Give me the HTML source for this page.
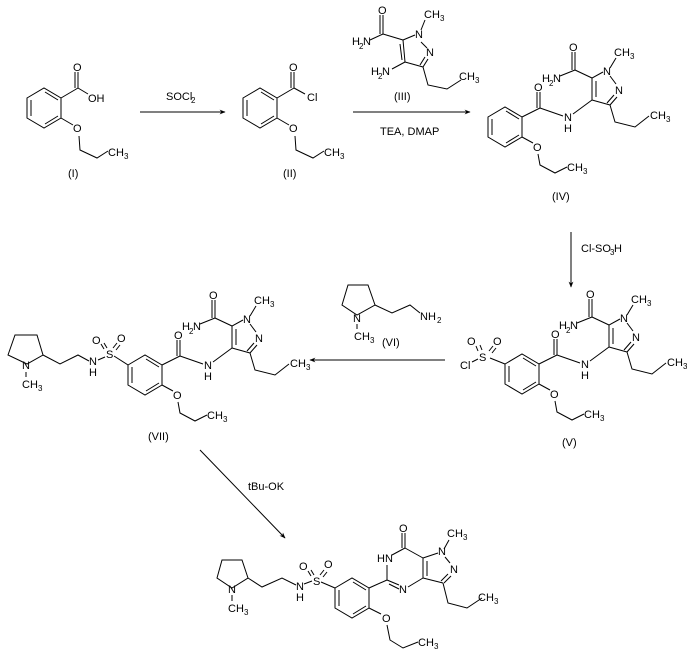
<!DOCTYPE html>
<html><head><meta charset="utf-8"><style>
html,body{margin:0;padding:0;background:#fff;}
svg{display:block;}
text{font-family:"Liberation Sans",sans-serif;font-size:11px;fill:#000;}
.s{font-size:8px;}
line,polyline,polygon,path{stroke:#000;stroke-width:1;fill:none;}
</style></head><body>
<svg width="687" height="660" viewBox="0 0 687 660" xmlns="http://www.w3.org/2000/svg">
<defs>
<marker id="ah" viewBox="0 0 10 10" refX="9" refY="5" markerWidth="8" markerHeight="6" orient="auto"><path d="M0,1 L10,5 L0,9 L3,5 Z" style="fill:#000;stroke:none"/></marker>
<g id="benz">
<polygon points="0,10 17,0 34,10 34,30 17,40 0,30"/>
<line x1="4" y1="12" x2="4" y2="28"/>
<line x1="18" y1="4" x2="31" y2="12"/>
<line x1="18" y1="36" x2="31" y2="28"/>
</g>
<g id="core">
<use href="#benz" x="488" y="107"/>
<line x1="522" y1="117" x2="540" y2="108"/>
<line x1="540" y1="108" x2="540" y2="92"/><line x1="537" y1="108" x2="537" y2="92"/>
<text x="534" y="91">O</text>
<line x1="540" y1="108" x2="563" y2="116"/>
<text x="564" y="121">N</text><text x="564" y="132">H</text>
<line x1="573" y1="114" x2="592" y2="100"/>
<polyline points="592,100 592,78 603,72"/>
<line x1="596" y1="97" x2="596" y2="81"/>
<text x="603" y="75">N</text>
<line x1="610" y1="76" x2="616" y2="84"/>
<text x="615" y="94">N</text>
<line x1="617" y1="97" x2="610" y2="105"/><line x1="614" y1="95" x2="607" y2="103"/>
<line x1="610" y1="105" x2="592" y2="100"/>
<line x1="592" y1="78" x2="575" y2="70"/>
<line x1="575" y1="70" x2="575" y2="52"/><line x1="572" y1="70" x2="572" y2="52"/>
<text x="569" y="51">O</text>
<line x1="575" y1="70" x2="560" y2="76"/>
<text x="542" y="82">H</text><text class="s" x="549" y="86">2</text><text x="553" y="82">N</text>
<line x1="610" y1="68" x2="616" y2="58"/>
<text x="614" y="56">CH</text><text class="s" x="630" y="59">3</text>
<polyline points="610,105 615,122 635,127 649,116"/>
<text x="650" y="119">CH</text><text class="s" x="666" y="122">3</text>
<line x1="522" y1="137" x2="533" y2="143"/>
<text x="533" y="151">O</text>
<polyline points="538,154 540,165 555,173 567,167"/>
<text x="567" y="171">CH</text><text class="s" x="583" y="174">3</text>
</g>
</defs>

<!-- Compound I -->
<use href="#benz" x="27" y="88"/>
<line x1="61" y1="98" x2="78" y2="88"/>
<line x1="78" y1="88" x2="78" y2="72"/><line x1="75" y1="88" x2="75" y2="72"/>
<text x="73" y="71">O</text>
<line x1="78" y1="88" x2="88" y2="94"/>
<text x="88" y="102">OH</text>
<line x1="61" y1="118" x2="73" y2="125"/>
<text x="73" y="132">O</text>
<polyline points="79,136 80,150 97,158 108,151"/>
<text x="108" y="156">CH</text><text class="s" x="124" y="159">3</text>
<text x="68" y="177">(I)</text>

<!-- Arrow 1 -->
<line x1="140" y1="112" x2="225" y2="112" marker-end="url(#ah)"/>
<text x="166" y="100">SOCl</text><text class="s" x="191" y="103">2</text>

<!-- Compound II -->
<use href="#benz" x="243" y="88"/>
<line x1="277" y1="98" x2="294" y2="88"/>
<line x1="294" y1="88" x2="294" y2="72"/><line x1="291" y1="88" x2="291" y2="72"/>
<text x="289" y="71">O</text>
<line x1="294" y1="88" x2="305" y2="94"/>
<text x="307" y="101">Cl</text>
<line x1="277" y1="118" x2="289" y2="125"/>
<text x="289" y="132">O</text>
<polyline points="295,136 296,150 313,158 324,151"/>
<text x="324" y="156">CH</text><text class="s" x="340" y="159">3</text>
<text x="283" y="177">(II)</text>

<!-- Compound III -->
<line x1="383" y1="34" x2="403" y2="40"/>
<line x1="383" y1="34" x2="383" y2="15"/><line x1="380" y1="34" x2="380" y2="15"/>
<text x="378" y="14">O</text>
<line x1="383" y1="34" x2="370" y2="40"/>
<text x="352" y="45">H</text><text class="s" x="359" y="49">2</text><text x="363" y="45">N</text>
<polyline points="403,40 405,62"/>
<line x1="400" y1="44" x2="402" y2="60"/>
<line x1="403" y1="40" x2="415" y2="35"/>
<text x="415" y="38">N</text>
<line x1="421" y1="42" x2="427" y2="48"/>
<text x="426" y="56">N</text>
<line x1="428" y1="59" x2="423" y2="67"/><line x1="425" y1="57" x2="420" y2="65"/>
<line x1="423" y1="67" x2="405" y2="62"/>
<line x1="421" y1="30" x2="425" y2="20"/>
<text x="424" y="18">CH</text><text class="s" x="440" y="21">3</text>
<line x1="405" y1="62" x2="392" y2="69"/>
<text x="371" y="75">H</text><text class="s" x="378" y="79">2</text><text x="382" y="75">N</text>
<polyline points="423,67 428,85 447,89 461,80"/>
<text x="459" y="80">CH</text><text class="s" x="475" y="83">3</text>
<text x="394" y="100">(III)</text>

<!-- Arrow 2 -->
<line x1="353" y1="112" x2="470" y2="112" marker-end="url(#ah)"/>
<text x="380" y="135">TEA, DMAP</text>

<!-- Compound IV -->
<use href="#core"/>
<text x="552" y="200">(IV)</text>

<!-- Arrow 3 -->
<line x1="571" y1="232" x2="571" y2="287" marker-end="url(#ah)"/>
<text x="581" y="252">Cl-SO</text><text class="s" x="610" y="255">3</text><text x="614" y="252">H</text>

<!-- Compound V -->
<g transform="translate(17,247)"><use href="#core"/></g>
<line x1="490" y1="358" x2="505" y2="364"/>
<text x="479" y="361">S</text>
<line x1="478" y1="351" x2="476" y2="346"/><line x1="482" y1="350" x2="480" y2="345"/>
<line x1="489" y1="351" x2="493" y2="346"/><line x1="492" y1="353" x2="496" y2="348"/>
<text x="467" y="345">O</text><text x="493" y="345">O</text>
<line x1="472" y1="362" x2="478" y2="359"/>
<text x="460" y="369">Cl</text>
<text x="562" y="446">(V)</text>

<!-- Compound VI -->
<polygon points="342,305 348,285 368,285 375,305 357,315"/>
<text x="353" y="322">N</text>
<line x1="357" y1="324" x2="357" y2="329"/>
<text x="354" y="340">CH</text><text class="s" x="370" y="343">3</text>
<polyline points="375,305 392,313 410,305 420,313"/>
<text x="420" y="320">NH</text><text class="s" x="437" y="323">2</text>
<text x="382" y="346">(VI)</text>

<!-- Arrow 4 -->
<line x1="445" y1="360" x2="310" y2="360" marker-end="url(#ah)"/>

<!-- Compound VII -->
<g transform="translate(-360,248)"><use href="#core"/></g>
<polygon points="8,355 15,335 37,335 43,355 27,364"/>
<text x="22" y="369">N</text>
<line x1="26" y1="372" x2="26" y2="377"/>
<text x="22" y="388">CH</text><text class="s" x="38" y="391">3</text>
<polyline points="43,355 60,364 78,355 89,361"/>
<text x="89" y="365">N</text><text x="89" y="376">H</text>
<line x1="98" y1="360" x2="105" y2="357"/>
<text x="106" y="358">S</text>
<line x1="114" y1="356" x2="128" y2="365"/>
<line x1="104" y1="349" x2="101" y2="344"/><line x1="107" y1="348" x2="104" y2="343"/>
<line x1="113" y1="348" x2="117" y2="343"/><line x1="116" y1="350" x2="120" y2="345"/>
<text x="92" y="344">O</text><text x="117" y="342">O</text>
<text x="148" y="440">(VII)</text>

<!-- Arrow 5 -->
<line x1="200" y1="450" x2="285" y2="538" marker-end="url(#ah)"/>
<text x="248" y="490">tBu-OK</text>

<!-- Final compound -->
<polygon points="217,578 222,560 242,560 248,578 232,588"/>
<text x="228" y="593">N</text>
<line x1="232" y1="595" x2="232" y2="601"/>
<text x="228" y="612">CH</text><text class="s" x="244" y="615">3</text>
<polyline points="248,578 262,587 282,578 296,585"/>
<text x="296" y="590">N</text><text x="296" y="601">H</text>
<line x1="304" y1="584" x2="312" y2="581"/>
<text x="313" y="585">S</text>
<line x1="321" y1="582" x2="335" y2="588"/>
<line x1="311" y1="576" x2="308" y2="571"/><line x1="314" y1="575" x2="311" y2="570"/>
<line x1="320" y1="575" x2="324" y2="570"/><line x1="323" y1="577" x2="327" y2="572"/>
<text x="299" y="570">O</text><text x="324" y="568">O</text>
<use href="#benz" x="335" y="578"/>
<line x1="369" y1="588" x2="387" y2="580"/>
<line x1="387" y1="580" x2="399" y2="585"/><line x1="389" y1="584" x2="399" y2="589"/>
<text x="399" y="593">N</text>
<line x1="408" y1="587" x2="423" y2="578"/>
<line x1="423" y1="578" x2="423" y2="558"/><line x1="427" y1="576" x2="427" y2="561"/>
<line x1="423" y1="558" x2="405" y2="548"/>
<line x1="405" y1="548" x2="392" y2="555"/>
<text x="377" y="562">HN</text>
<line x1="387" y1="565" x2="387" y2="580"/>
<line x1="405" y1="548" x2="405" y2="533"/><line x1="402" y1="548" x2="402" y2="533"/>
<text x="399" y="532">O</text>
<line x1="423" y1="558" x2="438" y2="553"/>
<text x="438" y="555">N</text>
<line x1="445" y1="557" x2="450" y2="563"/>
<text x="450" y="573">N</text>
<line x1="451" y1="576" x2="444" y2="583"/><line x1="448" y1="574" x2="441" y2="581"/>
<line x1="443" y1="583" x2="423" y2="578"/>
<line x1="444" y1="549" x2="449" y2="540"/>
<text x="447" y="537">CH</text><text class="s" x="463" y="540">3</text>
<polyline points="443,583 448,603 467,608 482,598"/>
<text x="478" y="601">CH</text><text class="s" x="494" y="604">3</text>
<line x1="369" y1="608" x2="381" y2="614"/>
<text x="382" y="622">O</text>
<polyline points="387,625 390,640 403,648 418,642"/>
<text x="418" y="646">CH</text><text class="s" x="434" y="649">3</text>
</svg>
</body></html>
